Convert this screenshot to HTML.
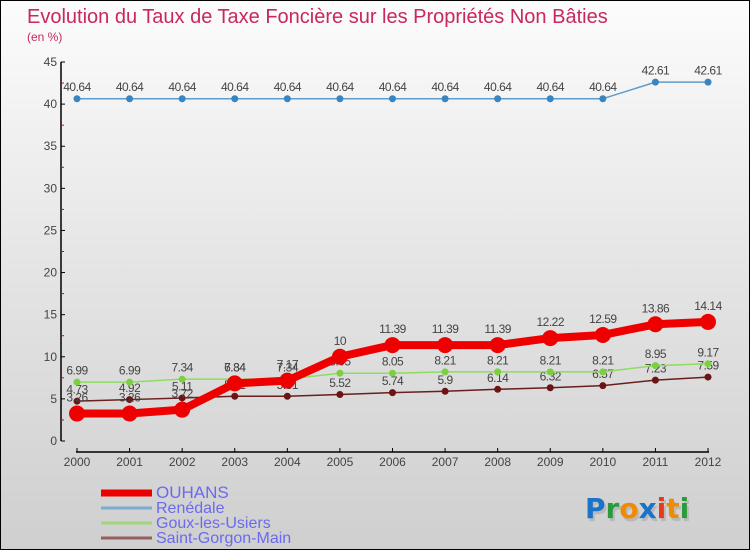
<!DOCTYPE html>
<html><head><meta charset="utf-8"><style>
html,body{margin:0;padding:0}
body{width:750px;height:550px;overflow:hidden;font-family:"Liberation Sans",sans-serif}
#wrap{position:relative;width:748px;height:548px;border:1px solid #000;background:linear-gradient(#fcfcfc,#e4e4e4 50%,#cfcfcf)}
svg{position:absolute;left:0;top:0}
</style></head><body>
<div id="wrap">
<svg id="c" width="750" height="550">
<text x="26" y="22" font-size="20" fill="#c8285a" font-weight="300">Evolution du Taux de Taxe Foncière sur les Propriétés Non Bâties</text>
<text x="26" y="40" font-size="12" fill="#c8285a">(en %)</text>
<g id="axes"></g><g id="series"></g><g id="legend"></g>
<g font-size="28" font-family="'DejaVu Sans',sans-serif" font-weight="bold">
<text x="584" y="517" fill="#aaa" opacity="0.6" transform="translate(2,3)">Proxiti</text>
<text x="584" y="517"><tspan fill="#1a73c9">P</tspan><tspan fill="#2a9a3a">r</tspan><tspan fill="#f08a00">o</tspan><tspan fill="#1a73c9">x</tspan><tspan fill="#e83a1a">i</tspan><tspan fill="#f08a00">t</tspan><tspan fill="#2a9a3a">i</tspan></text>
</g>
</svg></div>
<script>
const years=[2000,2001,2002,2003,2004,2005,2006,2007,2008,2009,2010,2011,2012];
const ouhans=[3.26,3.26,3.72,6.84,7.17,10,11.39,11.39,11.39,12.22,12.59,13.86,14.14];
const renedale=[40.64,40.64,40.64,40.64,40.64,40.64,40.64,40.64,40.64,40.64,40.64,42.61,42.61];
const goux=[6.99,6.99,7.34,7.34,7.34,8.05,8.05,8.21,8.21,8.21,8.21,8.95,9.17];
const gorgon=[4.73,4.92,5.11,5.31,5.31,5.52,5.74,5.9,6.14,6.32,6.57,7.23,7.59];
const yTicks=[0,5,10,15,20,25,30,35,40,45];
const NS="http://www.w3.org/2000/svg";
const x=i=>76+i*(707-76)/(years.length-1);
const y=v=>440-v*(440-61)/45;
function mk(t,a,p,txt){const e=document.createElementNS(NS,t);for(const k in a)e.setAttribute(k,a[k]);if(txt!==undefined)e.textContent=txt;p.appendChild(e);return e;}
const ax=document.getElementById('axes');
let e=mk('line',{x1:60,y1:61,x2:60,y2:440,stroke:'#000','stroke-width':1.5},ax);


yTicks.forEach(v=>{
 mk('line',{x1:60,x2:64,y1:y(v),y2:y(v),stroke:'#000'},ax);
 if(v<45) mk('line',{x1:60,x2:63,y1:y(v+2.5),y2:y(v+2.5),stroke:'#d00'},ax);
 const t=mk('text',{x:56,y:y(v)+4,'font-size':12,fill:'#444','text-anchor':'end'},ax,v);
 
 
});
e=mk('line',{x1:75,y1:451,x2:708,y2:451,stroke:'#000','stroke-width':1.5},ax);


years.forEach((yr,i)=>{
 mk('line',{x1:x(i),x2:x(i),y1:447,y2:451,stroke:'#000'},ax);
 const t=mk('text',{x:x(i),y:465,'font-size':12,fill:'#444','text-anchor':'middle'},ax,yr);
 
 
});
const sg=document.getElementById('series');
const series=[
 {name:'renedale',data:renedale,color:'#5f9ccc',w:1.5,r:3.5,fill:'#3a85c0'},
 {name:'saint-gorgon-main',data:gorgon,color:'#6a1e1e',w:1.5,r:3.5,fill:'#6a1414'},
 {name:'goux-les-usiers',data:goux,color:'#8fdc60',w:1.5,r:3.5,fill:'#7ad040'},
 {name:'ouhans',data:ouhans,color:'#ee0000',w:8,r:8,fill:'#ee0000'}];
series.forEach(s=>{
 const g=mk('g',{},sg);
 
 
 const l=mk('polyline',{points:s.data.map((v,i)=>x(i)+','+y(v)).join(' '),fill:'none',stroke:s.color,'stroke-width':s.w,'stroke-linejoin':'round'},g);
 
 
 s.data.forEach((v,i)=>{
  const c=mk('circle',{cx:x(i),cy:y(v),r:s.r,fill:s.fill},g);
  
  
  const t=mk('text',{x:x(i),y:y(v)-(s.r+4),'font-size':12,fill:'#444','text-anchor':'middle','letter-spacing':'-0.5'},g,String(v));
  
  
 });
});
const lg=document.getElementById('legend');
const leg=[['OUHANS','#ee0000',7],['Renédale','#7aaed0',3],['Goux-les-Usiers','#9ed87a',3],['Saint-Gorgon-Main','#946060',3]];
leg.forEach((d,i)=>{
 const cy=492+i*15;
 const g=mk('g',{},lg);
 
 
 mk('line',{x1:100,x2:151,y1:cy,y2:cy,stroke:d[1],'stroke-width':d[2]},g);
 mk('text',{x:155,y:cy+5,'font-size':i==0?17:16,fill:'#6a6af0'},g,d[0]);
});
</script>
</body></html>
